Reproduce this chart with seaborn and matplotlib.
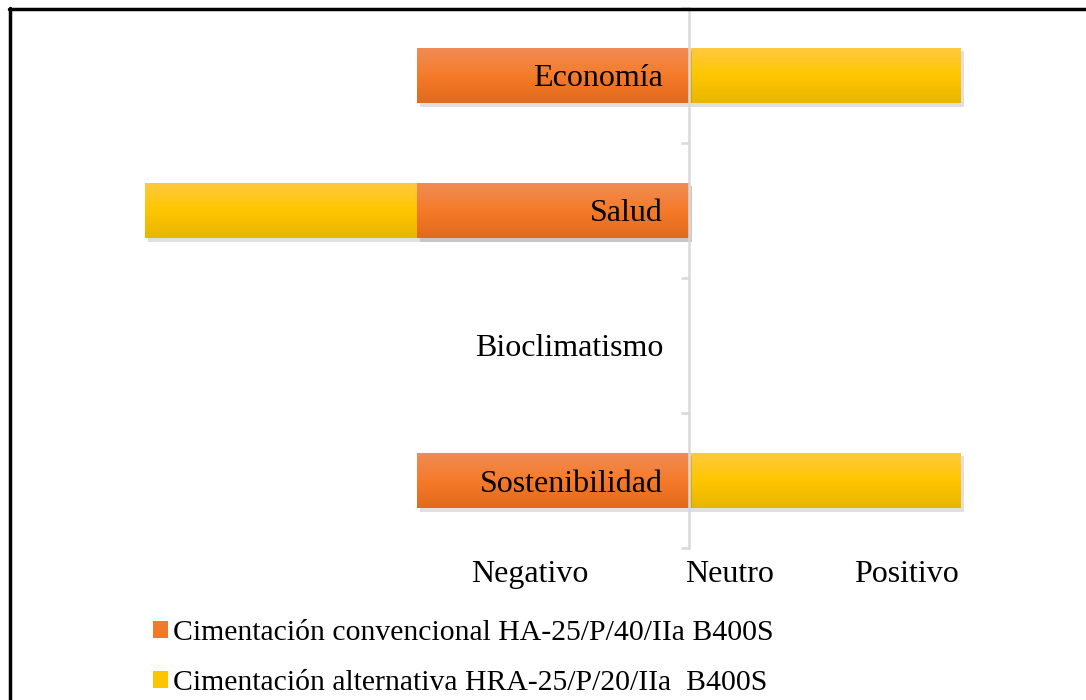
import numpy as np
import pandas as pd
import matplotlib
matplotlib.use("Agg")
import matplotlib.pyplot as plt
import matplotlib.patheffects as pe
from matplotlib.colors import LinearSegmentedColormap
from matplotlib.patches import Patch
from matplotlib.lines import Line2D
import seaborn as sns

# ---- data ----
categorias = ["Economía", "Salud", "Bioclimatismo", "Sostenibilidad"]
convencional = [-1, -1, 0, -1]
alternativa = [1, -1, 0, 1]
etiquetas_x = ["Negativo", "Neutro", "Positivo"]
pos_etiquetas_x = [-0.585, 0.15, 0.80]
series = ["Cimentación convencional HA-25/P/40/IIa B400S",
          "Cimentación alternativa HRA-25/P/20/IIa  B400S"]

c_orange = "#F07A2C"
c_yellow = "#FFC400"
grad_orange = ["#F08C55", "#F57B2A", "#E26A1C"]
grad_yellow = ["#FFC940", "#FFC600", "#E8B600"]

sns.set_style("white")
plt.rcParams["font.family"] = ["Liberation Serif", "DejaVu Serif"]
plt.rcParams["text.color"] = "black"
plt.rcParams["xtick.color"] = "black"
plt.rcParams["ytick.color"] = "black"

W, H = 1086, 700
fig = plt.figure(figsize=(W / 100, H / 100), dpi=100)
ax = fig.add_axes([145 / W, 1 - 548 / H, 870 / W, 540 / H])

# stacked ends: alternativa stacks on top of convencional when same sign
alt_end = [a + (c if np.sign(c) == np.sign(a) else 0) for a, c in zip(alternativa, convencional)]

df_alt = pd.DataFrame({"cat": categorias, "val": alt_end})
df_conv = pd.DataFrame({"cat": categorias, "val": convencional})

sns.barplot(data=df_alt, x="val", y="cat", order=categorias, orient="h",
            color=c_yellow, saturation=1, width=0.41, linewidth=0, ax=ax)
n_alt = len(ax.patches)
sns.barplot(data=df_conv, x="val", y="cat", order=categorias, orient="h",
            color=c_orange, saturation=1, width=0.41, linewidth=0, ax=ax)

ax.set_xlim(-2, 1.2)
ax.set_ylim(3.5, -0.5)

# gradient fill + shadow
cm_y = LinearSegmentedColormap.from_list("gy", grad_yellow)
cm_o = LinearSegmentedColormap.from_list("go", grad_orange)
grad = np.linspace(0, 1, 64).reshape(-1, 1)
for i, p in enumerate(ax.patches):
    cmap = cm_y if i < n_alt else cm_o
    x0, y0, w, h = p.get_x(), p.get_y(), p.get_width(), p.get_height()
    if abs(w) < 1e-9:
        p.set_visible(False)
        continue
    p.set_path_effects([pe.SimplePatchShadow(offset=(2.5, -2.5), alpha=0.16, shadow_rgbFace="#444444"),
                        pe.Normal()])
    p.set_zorder(1 + i * 0.01)
    xl, xr = min(x0, x0 + w), max(x0, x0 + w)
    ytop, ybot = min(y0, y0 + h), max(y0, y0 + h)
    im = ax.imshow(grad, cmap=cmap, aspect="auto", extent=(xl, xr, ybot, ytop),
                   origin="upper", zorder=1.005 + i * 0.01, interpolation="bilinear")
    im.set_clip_path(p)

ax.set_xlim(-2, 1.2)
ax.set_ylim(3.5, -0.5)
ax.set_xlabel("")
ax.set_ylabel("")
ax.set_axisbelow(False)

# vertical axis at zero
for s in ["top", "right", "bottom"]:
    ax.spines[s].set_visible(False)
ax.spines["left"].set_position(("data", 0))
ax.spines["left"].set_color("#D9D9D9")
ax.spines["left"].set_linewidth(1.8)
ax.spines["left"].set_zorder(3)

ax.set_yticks([-0.5, 0.5, 1.5, 2.5, 3.5])
ax.set_yticklabels([])
ax.set_yticks(range(len(categorias)), minor=True)
ax.set_yticklabels(categorias, minor=True)
ax.tick_params(axis="y", which="major", length=6, width=1.8, color="#D9D9D9", direction="out", left=True)
ax.tick_params(axis="y", which="minor", length=0, pad=18.5, labelsize=23, left=True, labelcolor="black")

ax.set_xticks(pos_etiquetas_x)
ax.set_xticklabels(etiquetas_x)
ax.tick_params(axis="x", length=0, labelsize=23, pad=8.5, labelcolor="black")
ax.grid(False)

# legend
handles = [Patch(facecolor=c_orange, edgecolor="none"), Patch(facecolor=c_yellow, edgecolor="none")]
leg = fig.legend(handles, series, loc="upper left", bbox_to_anchor=(153 / W, 1 - 620 / H),
                 frameon=False, fontsize=21.4, handlelength=0.5, handleheight=0.5,
                 handletextpad=0.18, labelspacing=0.8, borderpad=0, borderaxespad=0)
for t in leg.get_texts():
    t.set_color("black")

# outer frame (top and left visible)
fig.add_artist(Line2D([9 / W, 1], [1 - 8.5 / H, 1 - 8.5 / H], transform=fig.transFigure,
                      color="black", lw=2.5))
fig.add_artist(Line2D([9.5 / W, 9.5 / W], [0, 1 - 8 / H], transform=fig.transFigure,
                      color="black", lw=2.5))

fig.savefig("out.png", dpi=100)
